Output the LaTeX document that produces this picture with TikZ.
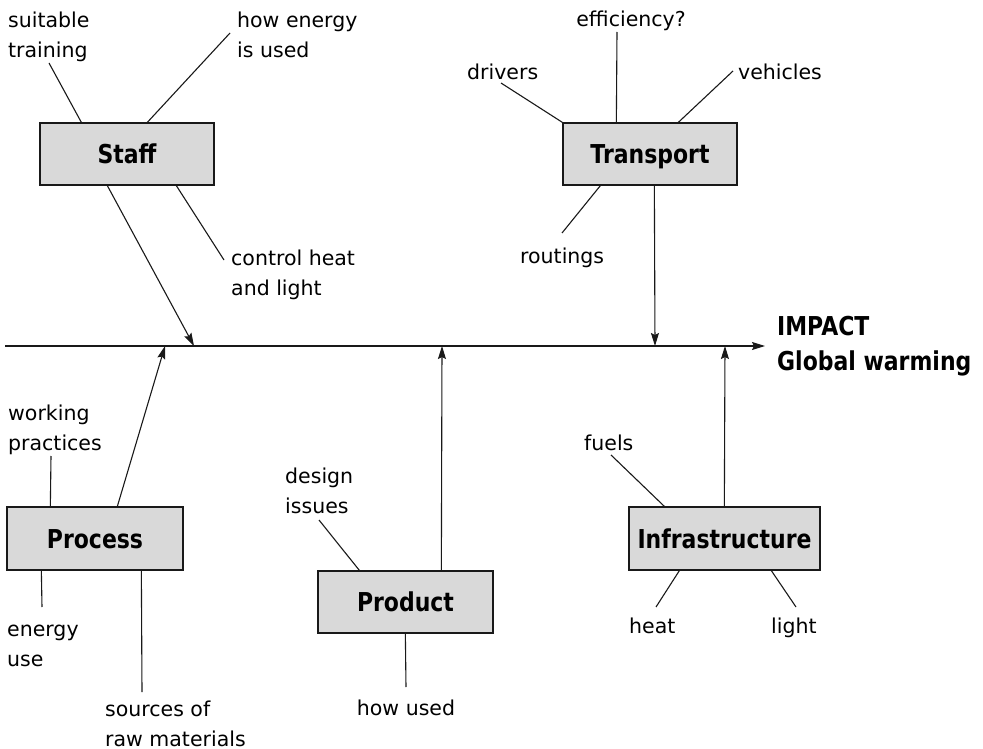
\documentclass[tikz,border=0pt]{standalone}
\usepackage{fontspec}
\setmainfont{DejaVu Sans}
\newfontfamily\boxfont[FakeStretch=0.845]{DejaVu Sans Bold}
\usetikzlibrary{arrows.meta,calc}

\tikzset{
  cause/.style={draw=black!90, line width=1.3pt, fill=black!15, inner sep=0pt,
    font=\boxfont\fontsize{26}{30}\selectfont, text height=19pt, text depth=0pt},
  lbl/.style={inner sep=0pt, align=left, font=\fontsize{20.5}{30}\selectfont},
  twig/.style={line width=1.1pt, draw=black!90},
  feed/.style={line width=1.1pt, draw=black!90, -{Stealth[length=13pt,width=8pt,inset=2pt]}},
}

\begin{document}
\begin{tikzpicture}[x=1pt,y=-1pt]
\useasboundingbox (0,0) rectangle (983,749);

% cause boxes
\node[cause, minimum width=174pt, minimum height=62pt] (staff) at (127,154) {Staff};
\node[cause, minimum width=174pt, minimum height=62pt] (transport) at (650,154) {Transport};
\node[cause, minimum width=176pt, minimum height=63pt] (process) at (95,538.5) {Process};
\node[cause, minimum width=175pt, minimum height=62pt] (product) at (405.5,602) {Product};
\node[cause, minimum width=191pt, minimum height=63pt] (infra) at (724.5,538.5) {Infrastructure};

% spine and effect (base anchor of a two-line node sits on its last line)
\coordinate (spL) at (5,346);
\coordinate (spR) at (765,346);
\draw[feed] (spL) -- (spR);
\node[inner sep=0pt, align=left, anchor=base west,
      font=\boxfont\fontsize{26}{35}\selectfont] (effect) at (777,370) {IMPACT\\Global warming};

% sub-cause labels
\node[lbl, anchor=base west] (lTrain) at (8,58) {suitable\\training};
\node[lbl, anchor=base west] (lEnergy) at (237,58) {how energy\\is used};
\node[lbl, anchor=base west] (lControl) at (231,295) {control heat\\and light};
\node[lbl, anchor=base] (lEff) at (631,27) {efficiency?};
\node[lbl, anchor=base west] (lDrivers) at (467,80) {drivers};
\node[lbl, anchor=base west] (lVehicles) at (738,80) {vehicles};
\node[lbl, anchor=base west] (lRoutings) at (520,263) {routings};
\node[lbl, anchor=base west] (lWorking) at (8,450) {working\\practices};
\node[lbl, anchor=base west] (lEnergyUse) at (7,666) {energy\\use};
\node[lbl, anchor=base west] (lSources) at (105,746) {sources of\\raw materials};
\node[lbl, anchor=base west] (lDesign) at (285,513) {design\\issues};
\node[lbl, anchor=base] (lHowUsed) at (406,715) {how used};
\node[lbl, anchor=base west] (lFuels) at (584,450) {fuels};
\node[lbl, anchor=base west] (lHeat) at (629,633) {heat};
\node[lbl, anchor=base west] (lLight) at (771,633) {light};

% free ends of the twigs
\coordinate (c1) at (49,63);
\coordinate (c2) at (230,33);
\coordinate (c3) at (224,260);
\coordinate (c4) at (617,32);
\coordinate (c5) at (501,83);
\coordinate (c6) at (733,71);
\coordinate (c7) at (562,233);
\coordinate (c8) at (51,456);
\coordinate (c9) at (42,607);
\coordinate (c10) at (142,692);
\coordinate (c11) at (319,520);
\coordinate (c12) at (406,687);
\coordinate (c13) at (611,455);
\coordinate (c14) at (656,607);
\coordinate (c15) at (796,607);

% where the bones meet the spine
\coordinate (h1) at (194,346);
\coordinate (h2) at (655,346);
\coordinate (h3) at (165,346);
\coordinate (h4) at (442,346);
\coordinate (h5) at (725,346);

% Staff
\draw[twig] (c1) -- ([xshift=42pt]staff.north west);
\draw[twig] (c2) -- ([xshift=108pt]staff.north west);
\draw[twig] (c3) -- ([xshift=137pt]staff.south west);
\draw[feed] ([xshift=68pt]staff.south west) -- (h1);

% Transport
\draw[twig] (c4) -- ([xshift=54pt]transport.north west);
\draw[twig] (c5) -- (transport.north west);
\draw[twig] (c6) -- ([xshift=116pt]transport.north west);
\draw[twig] (c7) -- ([xshift=38pt]transport.south west);
\draw[feed] ([xshift=92pt]transport.south west) -- (h2);

% Process
\draw[twig] (c8) -- ([xshift=44pt]process.north west);
\draw[twig] (c9) -- ([xshift=35pt]process.south west);
\draw[twig] (c10) -- ([xshift=135pt]process.south west);
\draw[feed] ([xshift=111pt]process.north west) -- (h3);

% Product
\draw[twig] (c11) -- ([xshift=42pt]product.north west);
\draw[twig] (c12) -- ([xshift=88pt]product.south west);
\draw[feed] ([xshift=124pt]product.north west) -- (h4);

% Infrastructure
\draw[twig] (c13) -- ([xshift=36pt]infra.north west);
\draw[twig] (c14) -- ([xshift=51pt]infra.south west);
\draw[twig] (c15) -- ([xshift=143pt]infra.south west);
\draw[feed] ([xshift=96pt]infra.north west) -- (h5);
\end{tikzpicture}
\end{document}
